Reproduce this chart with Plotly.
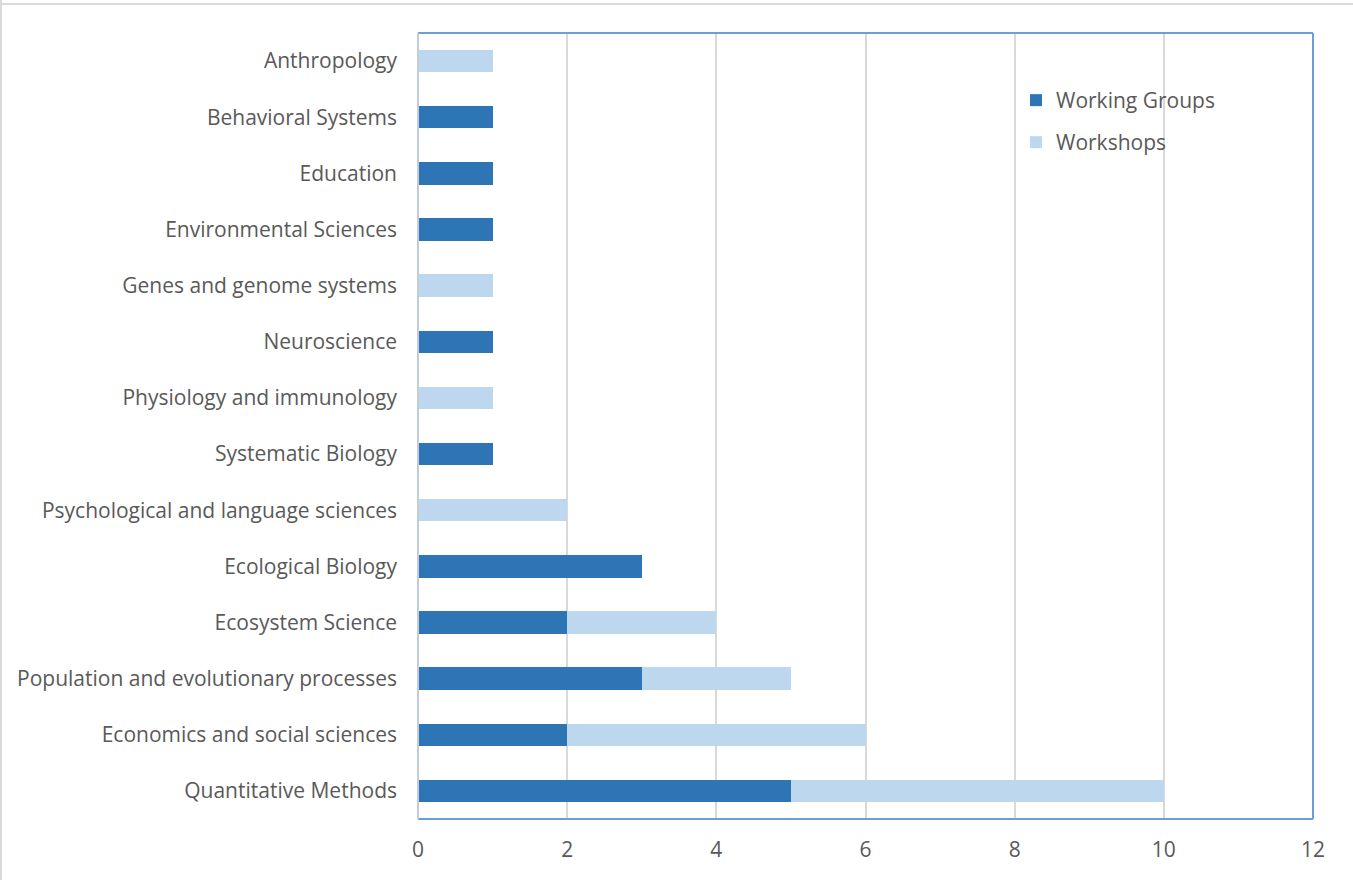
import plotly.graph_objects as go

# Categories listed bottom to top (plotly draws the first category at the bottom)
categories = [
    "Quantitative Methods",
    "Economics and social sciences",
    "Population and evolutionary processes",
    "Ecosystem Science",
    "Ecological Biology",
    "Psychological and language sciences",
    "Systematic Biology",
    "Physiology and immunology",
    "Neuroscience",
    "Genes and genome systems",
    "Environmental Sciences",
    "Education",
    "Behavioral Systems",
    "Anthropology",
]
working_groups = [5, 2, 3, 2, 3, 0, 1, 0, 1, 0, 1, 1, 1, 0]
workshops = [5, 4, 2, 2, 0, 2, 0, 1, 0, 1, 0, 0, 0, 1]
x_ticks = [0, 2, 4, 6, 8, 10, 12]

DARK = "#2e75b6"
LIGHT = "#bdd7ee"
TEXT = "#595959"
GRID = "#d9d9d9"
FRAME = "#6a9fd8"
FS = 21

W, H = 1353, 880
L, R, T, B = 418, 40, 33, 61
pw, ph = W - L - R, H - T - B

def px(x):
    return (x - L) / pw

def py(y):
    return 1 - (y - T) / ph

fig = go.Figure()
fig.add_trace(go.Bar(y=categories, x=working_groups, orientation="h",
                     name="Working Groups", legend="legend",
                     marker=dict(color=DARK, line=dict(width=0))))
fig.add_trace(go.Bar(y=categories, x=workshops, orientation="h",
                     name="Workshops", legend="legend2",
                     marker=dict(color=LIGHT, line=dict(width=0))))

legend_style = dict(xanchor="left", yanchor="top", bgcolor="rgba(0,0,0,0)",
                    font=dict(size=FS, color=TEXT), itemwidth=30)

fig.update_layout(
    width=W, height=H,
    barmode="stack", bargap=0.6,
    margin=dict(l=L, r=R, t=T, b=B, pad=0),
    paper_bgcolor="white", plot_bgcolor="white",
    font=dict(family="Open Sans", size=FS, color=TEXT),
    showlegend=True,
    legend=dict(x=px(1016), y=py(80), **legend_style),
    legend2=dict(x=px(1016), y=py(122), **legend_style),
    xaxis=dict(range=[0, 12], tickvals=x_ticks, showgrid=True, gridcolor=GRID,
               gridwidth=2, zeroline=False, showline=False, ticks="",
               ticklabelstandoff=16, tickfont=dict(size=FS, color=TEXT)),
    yaxis=dict(categoryorder="array", categoryarray=categories, showgrid=False,
               zeroline=False, showline=False, ticks="", ticklabelstandoff=20,
               tickfont=dict(size=FS, color=TEXT)),
    shapes=[
        # plot-area frame: top, right, bottom in blue
        dict(type="line", xref="paper", yref="paper", x0=0, x1=1, y0=1, y1=1,
             line=dict(color=FRAME, width=2)),
        dict(type="line", xref="paper", yref="paper", x0=1, x1=1, y0=0, y1=1,
             line=dict(color=FRAME, width=2)),
        dict(type="line", xref="paper", yref="paper", x0=0, x1=1, y0=0, y1=0,
             line=dict(color=FRAME, width=2)),
        # value axis baseline at zero
        dict(type="line", xref="paper", yref="paper", x0=0, x1=0, y0=0, y1=1,
             line=dict(color="#c4ccd6", width=2), layer="above"),
        # outer chart border (top and left edges)
        dict(type="line", xref="paper", yref="paper", x0=px(0), x1=px(W), y0=py(4), y1=py(4),
             line=dict(color=GRID, width=2)),
        dict(type="line", xref="paper", yref="paper", x0=px(1), x1=px(1), y0=py(0), y1=py(H),
             line=dict(color=GRID, width=2)),
    ],
)

fig.write_html("out.html")
